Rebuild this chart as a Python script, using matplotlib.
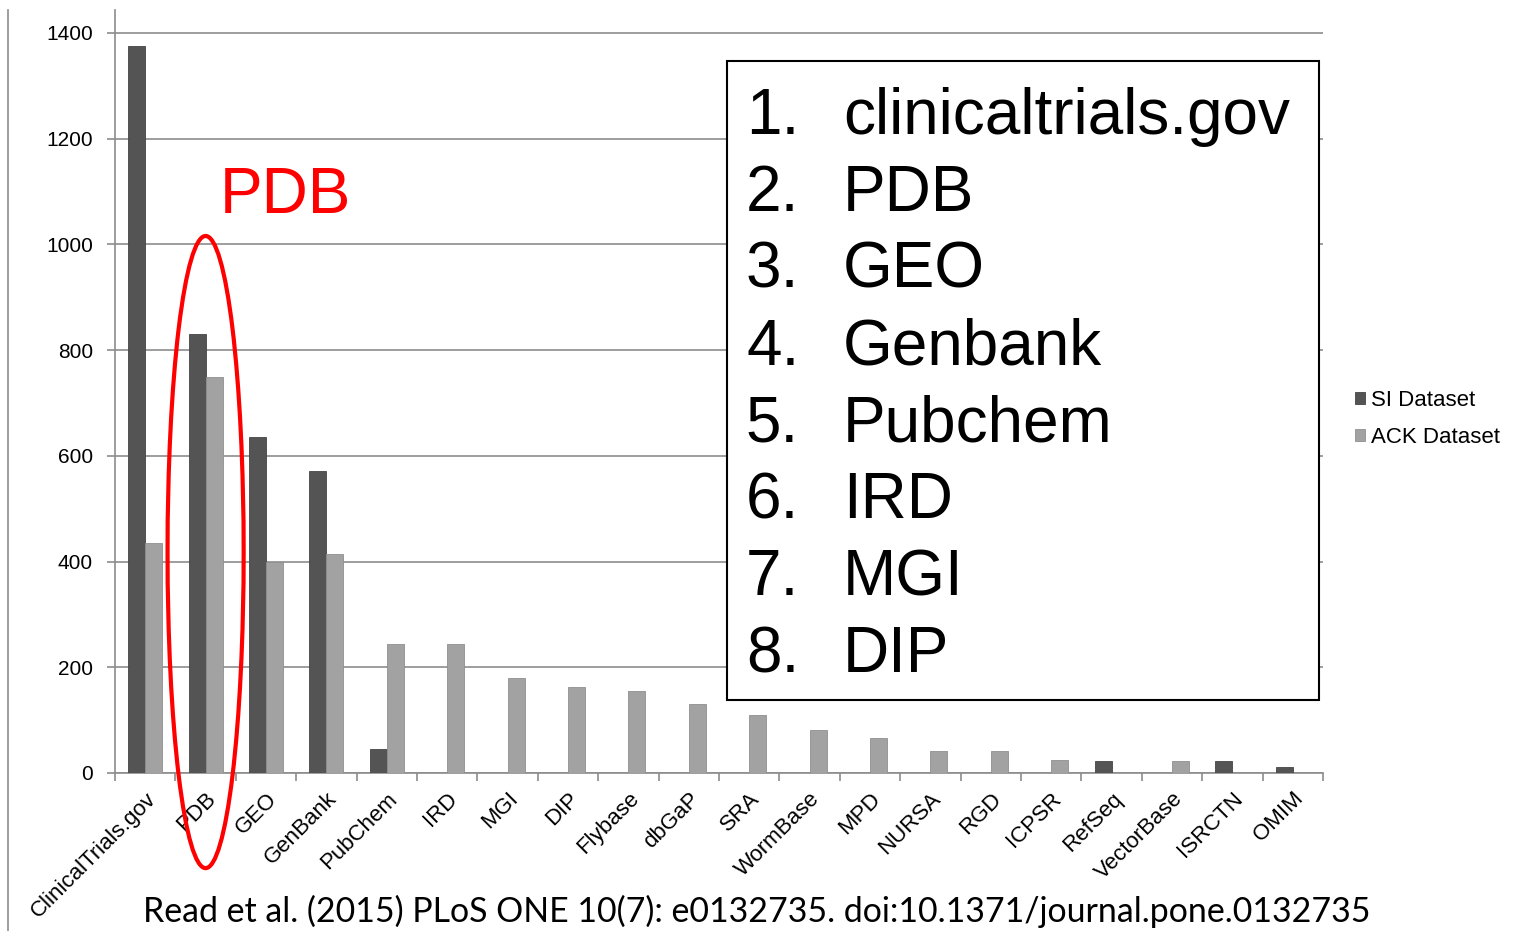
import numpy as np
import matplotlib
matplotlib.use('Agg')
import matplotlib.pyplot as plt
from matplotlib.patches import Ellipse, Rectangle
from matplotlib.lines import Line2D

plt.rcParams['font.family'] = ['Liberation Sans', 'DejaVu Sans']

# Данные
categories = ['ClinicalTrials.gov', 'PDB', 'GEO', 'GenBank', 'PubChem', 'IRD', 'MGI', 'DIP',
              'Flybase', 'dbGaP', 'SRA', 'WormBase', 'MPD', 'NURSA', 'RGD', 'ICPSR',
              'RefSeq', 'VectorBase', 'ISRCTN', 'OMIM']
si_values = [1375, 830, 635, 572, 45, 0, 0, 0, 0, 0, 0, 0, 0, 0, 0, 0, 22, 0, 22, 12]
ack_values = [435, 750, 400, 415, 245, 245, 180, 162, 156, 130, 110, 82, 66, 41, 41, 25, 0, 22, 0, 0]
series_names = ['SI Dataset', 'ACK Dataset']
top_list = ['clinicaltrials.gov', 'PDB', 'GEO', 'Genbank', 'Pubchem', 'IRD', 'MGI', 'DIP']
citation = 'Read et al. (2015) PLoS ONE 10(7): e0132735. doi:10.1371/journal.pone.0132735'

W, H = 1515, 931
fig = plt.figure(figsize=(W / 100, H / 100), dpi=100)
ax = fig.add_axes([115 / W, 1 - 773 / H, (1323 - 115) / W, (773 - 10) / H])

x = np.arange(len(categories))
w = 0.28
ax.bar(x - w / 2, si_values, w, color='#545454', edgecolor='#444444', linewidth=0.6,
       label=series_names[0], zorder=3)
ax.bar(x + w / 2, ack_values, w, color='#a2a2a2', edgecolor='#8f8f8f', linewidth=0.6,
       label=series_names[1], zorder=3)

ax.set_xlim(-0.5, len(categories) - 0.5)
ax.set_ylim(0, 1400 * 763 / 740)
ax.set_yticks(np.arange(0, 1401, 200))
ax.yaxis.grid(True, color='#8c8c8c', linewidth=1.2, zorder=0)
ax.set_axisbelow(True)

for s in ['top', 'right']:
    ax.spines[s].set_visible(False)
for s in ['left', 'bottom']:
    ax.spines[s].set_color('#8c8c8c')
    ax.spines[s].set_linewidth(1.2)

ax.set_xticks(x)
ax.set_xticklabels(categories, rotation=45, ha='right', rotation_mode='anchor', fontsize=16)
ax.set_xticks(np.arange(-0.5, len(categories), 1), minor=True)
ax.tick_params(axis='x', which='major', length=0, pad=11)
ax.tick_params(axis='x', which='minor', length=6, color='#8c8c8c', width=1.2)
ax.tick_params(axis='y', length=6, color='#8c8c8c', width=1.2, pad=10, labelsize=15)

ax.legend(loc='center left', bbox_to_anchor=(1355 / W, 1 - 419 / H),
          bbox_transform=fig.transFigure, frameon=False, fontsize=16,
          handlelength=0.45, handleheight=0.45, handletextpad=0.25, labelspacing=0.75,
          borderpad=0, borderaxespad=0)

# Выделение PDB
ax.add_patch(Ellipse((1, 418), 1.26, 1196, fill=False, edgecolor='#ff0000',
                     linewidth=3, clip_on=False, zorder=6))
ax.text(1.24, 1059, 'PDB', color='#ff0000', fontsize=46, ha='left', va='baseline')

# Список
fig.add_artist(Rectangle((727 / W, 1 - 700 / H), (1319 - 727) / W, (700 - 61) / H,
                         transform=fig.transFigure, facecolor='white',
                         edgecolor='black', linewidth=1.5, zorder=5))
for i, name in enumerate(top_list):
    yb = 1 - (134 + 76.9 * i) / H
    fig.text(746 / W, yb, f'{i + 1}.', fontsize=46, va='baseline', zorder=6)
    fig.text(843 / W, yb, name, fontsize=46, va='baseline', zorder=6)

fig.add_artist(Line2D([8 / W, 8 / W], [0, 1 - 10 / H], transform=fig.transFigure,
                      color='#8c8c8c', linewidth=1.2))

fig.text(757 / W, 1 - 922 / H, citation, fontsize=24.4, ha='center', va='baseline',
         family=['Lato', 'DejaVu Sans'])

fig.savefig('out.png', dpi=100)
